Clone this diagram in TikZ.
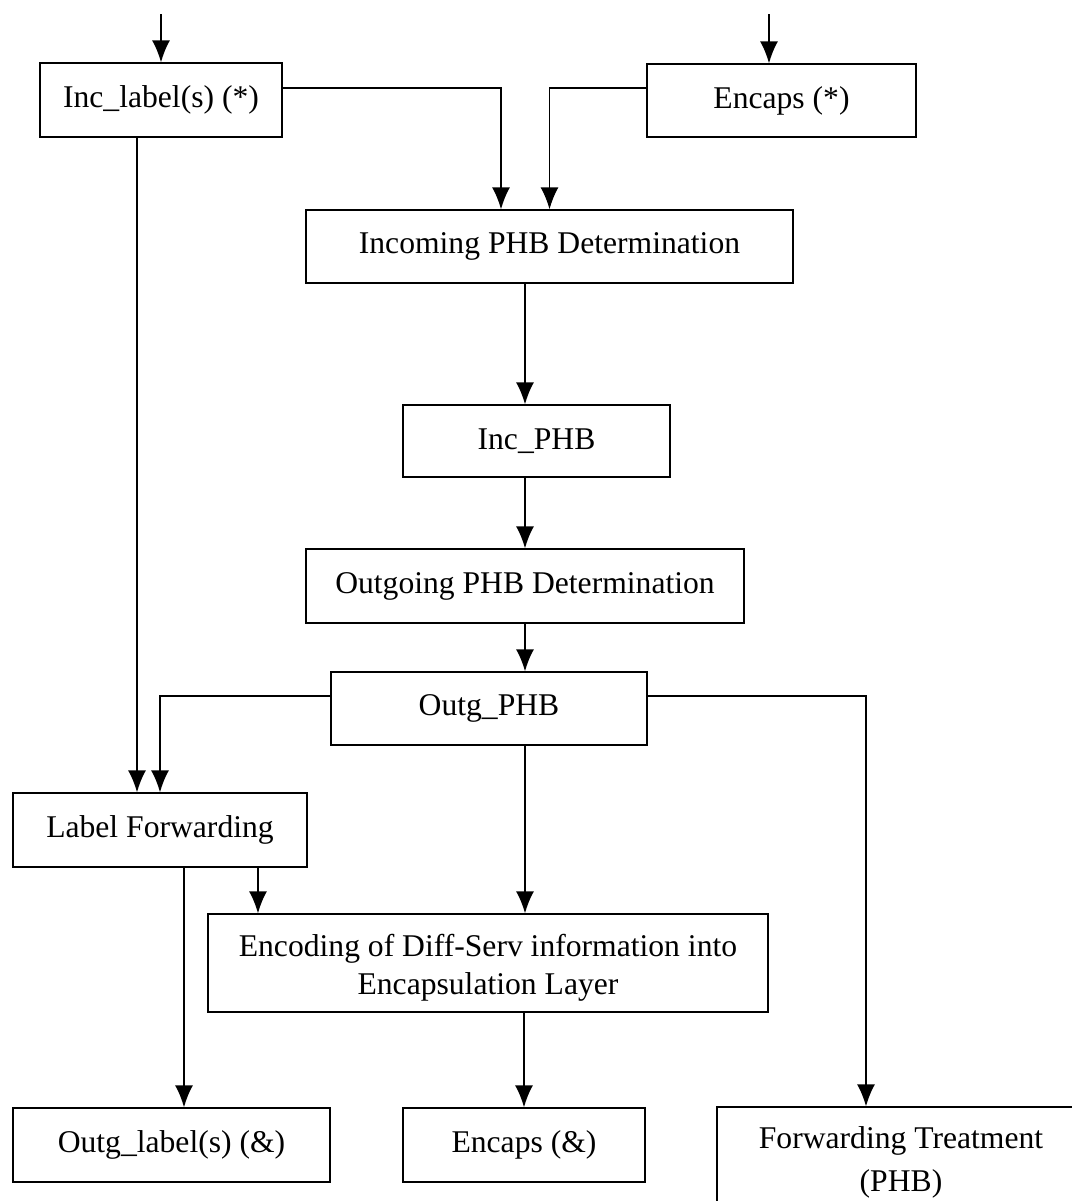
\documentclass[tikz,border=0pt]{standalone}
\usepackage{fontspec}
\setmainfont{Liberation Serif}
\usepackage{tikz}
\usetikzlibrary{arrows.meta,positioning}

\begin{document}
\begin{tikzpicture}[x=0.02cm, y=-0.02cm,
    font=\fontsize{18}{21.6}\selectfont,
    box/.style={rectangle, draw, line width=0.8pt, inner sep=0pt, align=center},
    line/.style={draw, line width=0.8pt, -{Latex[length=0.44cm,width=0.36cm]}}]

    \useasboundingbox (0,0) rectangle (1072,1201);
    \clip (0,0) rectangle (1072,1201);

    % Inputs
    \node [box, minimum width=4.84cm, minimum height=1.48cm] (inclabel) at (161,100) {Inc\_label(s) (*)};
    \node [box, minimum width=5.38cm, minimum height=1.46cm] (encapsin) at (781.5,100.5) {Encaps (*)};

    % PHB chain
    \node [box, minimum width=9.74cm, minimum height=1.46cm] (incdet) at (549.5,246.5) {Incoming PHB Determination};
    \node [box, minimum width=5.34cm, minimum height=1.44cm] (incphb) at (536.5,441) {Inc\_PHB};
    \node [box, minimum width=8.76cm, minimum height=1.48cm] (outdet) at (525,586) {Outgoing PHB Determination};
    \node [box, minimum width=6.32cm, minimum height=1.46cm] (outgphb) at (489,708.5) {Outg\_PHB};

    % Processing
    \node [box, minimum width=5.88cm, minimum height=1.48cm] (labfwd) at (160,830) {Label Forwarding};
    \node [box, minimum width=11.2cm, minimum height=1.96cm] (encoding) at (488,963) {\rule{0pt}{0.62cm}Encoding of Diff-Serv information into\\ Encapsulation Layer};

    % Outputs
    \node [box, minimum width=6.34cm, minimum height=1.48cm] (outglabel) at (171.5,1145) {Outg\_label(s) (\&)};
    \node [box, minimum width=4.84cm, minimum height=1.48cm] (encapsout) at (524,1145) {Encaps (\&)};
    \node [box, minimum width=7.36cm, minimum height=2.2cm] (fwdtreat) at (901,1162) {Forwarding Treatment\\[3pt] (PHB)};

    % Free ends and branch points
    \coordinate (in1) at ([yshift=0.96cm]inclabel.north);
    \coordinate (in2) at ([xshift=-0.25cm, yshift=0.98cm]encapsin.north);
    \coordinate (lfin) at ([xshift=-0.48cm]inclabel.south);
    \coordinate (lfout) at ([xshift=0.48cm]labfwd.south);
    \coordinate (lfenc) at ([xshift=1.96cm]labfwd.south);

    % Paths
    \path [line] (in1) -- (inclabel.north);
    \path [line] (in2) -- (in2 |- encapsin.north);
    \path [line] ([yshift=0.24cm]inclabel.east) -| ([xshift=-0.97cm]incdet.north);
    \path [line] ([yshift=0.25cm]encapsin.west) -| (incdet.north);
    \path [line] (incdet.south -| outdet.north) -- (incphb.north -| outdet.north);
    \path [line] (incphb.south -| outdet.north) -- (outdet.north);
    \path [line] (outdet.south) -- (outgphb.north -| outdet.south);
    \path [line] (lfin) -- (lfin |- labfwd.north);
    \path [line] ([yshift=0.25cm]outgphb.west) -| (labfwd.north);
    \path [line] ([yshift=0.25cm]outgphb.east) -| ([xshift=-0.7cm]fwdtreat.north);
    \path [line] (outgphb.south -| outdet.south) -- (encoding.north -| outdet.south);
    \path [line] (lfenc) -- (lfenc |- encoding.north);
    \path [line] (lfout) -- (lfout |- outglabel.north);
    \path [line] (encoding.south -| encapsout.north) -- (encapsout.north);

\end{tikzpicture}
\end{document}
